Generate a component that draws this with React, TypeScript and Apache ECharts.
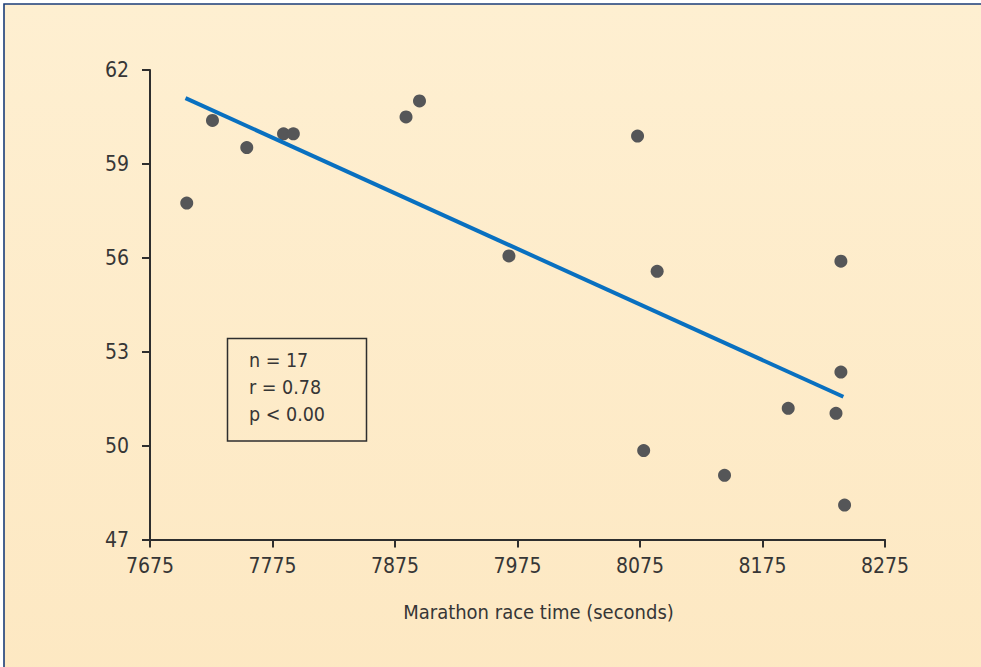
import React, { useEffect, useRef } from "react";
import * as echarts from "echarts";

// Marathon race time (seconds) vs. value
const raceTimes = [7705, 7726, 7754, 7784, 7792, 7884, 7895, 7968, 8073, 8089, 8239, 8239, 8196, 8235, 8078, 8144, 8242];
const values = [57.75, 60.39, 59.52, 59.96, 59.96, 60.5, 61.01, 56.06, 59.89, 55.57, 55.89, 52.35, 51.19, 51.03, 49.84, 49.05, 48.1];

// Regression line end points
const fitX = [7704, 8241];
const fitY = [61.1, 51.56];

// Tick labels
const xTicks = [7675, 7775, 7875, 7975, 8075, 8175, 8275];
const yTicks = [47, 50, 53, 56, 59, 62];

const statsLines = ["n = 17", "r = 0.78", "p < 0.00"];
const xTitle = "Marathon race time (seconds)";

const FONT = "'Liberation Sans Narrow', 'DejaVu Sans Condensed', sans-serif";
const TEXT = "#363636";

export default function App() {
  const ref = useRef<HTMLDivElement>(null);
  useEffect(() => {
    if (!ref.current) return;
    const chart = echarts.init(ref.current, undefined, { renderer: "svg" });
    const option = {
      animation: false,
      backgroundColor: "#ffffff",
      textStyle: { fontFamily: FONT },
      grid: { left: 150, top: 70, right: 96, bottom: 127.5, containLabel: false },
      xAxis: {
        type: "value",
        min: xTicks[0],
        max: xTicks[xTicks.length - 1],
        splitLine: { show: false },
        axisLine: { show: true, onZero: false, lineStyle: { color: "#2e2e2e", width: 2 } },
        axisTick: { show: true, customValues: xTicks, length: 8, inside: false, lineStyle: { color: "#2e2e2e", width: 2 } },
        axisLabel: {
          customValues: xTicks,
          formatter: (v: number) => String(v),
          color: TEXT,
          fontSize: 21,
          margin: 16,
          fontFamily: FONT,
        },
      },
      yAxis: {
        type: "value",
        min: yTicks[0],
        max: yTicks[yTicks.length - 1],
        splitLine: { show: false },
        axisLine: { show: true, onZero: false, lineStyle: { color: "#2e2e2e", width: 2 } },
        axisTick: { show: true, customValues: yTicks, length: 8, inside: false, lineStyle: { color: "#2e2e2e", width: 2 } },
        axisLabel: {
          customValues: yTicks,
          formatter: (v: number) => String(v),
          color: TEXT,
          fontSize: 21,
          margin: 21,
          fontFamily: FONT,
        },
      },
      graphic: [
        {
          type: "rect",
          z: -10,
          silent: true,
          shape: { x: 4, y: 4, width: 1000, height: 700 },
          style: {
            fill: new echarts.graphic.LinearGradient(0, 0, 0, 1, [
              { offset: 0, color: "#feefd1" },
              { offset: 1, color: "#fde8c2" },
            ]),
            stroke: "#1b3d78",
            lineWidth: 1.6,
          },
        },
        {
          type: "rect",
          z: 10,
          shape: { x: 227.5, y: 338.5, width: 139, height: 102.5 },
          style: { fill: "transparent", stroke: "#2e2e2e", lineWidth: 1.5 },
        },
        ...statsLines.map((t, i) => ({
          type: "text",
          z: 10,
          x: 249,
          y: 360 + i * 27,
          style: { text: t, fill: TEXT, fontSize: 19.5, fontFamily: FONT, textVerticalAlign: "middle", textAlign: "left" },
        })),
        {
          type: "text",
          z: 10,
          x: 538.5,
          y: 612,
          style: { text: xTitle, fill: TEXT, fontSize: 20, fontFamily: FONT, textAlign: "center", textVerticalAlign: "middle" },
        },
      ],
      series: [
        {
          type: "scatter",
          data: raceTimes.map((x, i) => [x, values[i]]),
          symbol: "circle",
          symbolSize: 13,
          itemStyle: { color: "#555658", opacity: 1 },
          z: 3,
        },
        {
          type: "line",
          data: fitX.map((x, i) => [x, fitY[i]]),
          symbol: "none",
          lineStyle: { color: "#0970c0", width: 4 },
          z: 4,
        },
      ],
    };
    chart.setOption(option as any);
    return () => chart.dispose();
  }, []);
  return (
    <div style={{ position: "fixed", left: 0, top: 0, width: 981, height: 667, background: "#fff" }}>
      <div ref={ref} style={{ width: 981, height: 667 }} />
    </div>
  );
}
